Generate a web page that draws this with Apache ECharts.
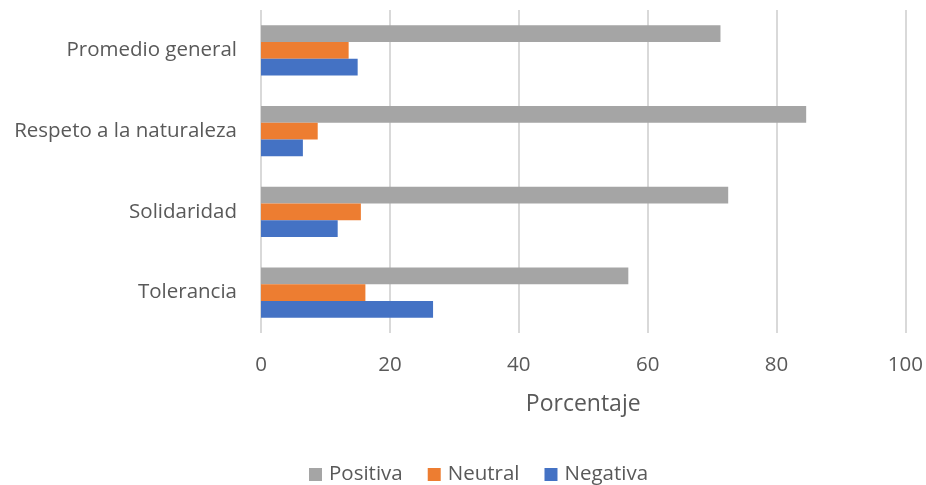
<!DOCTYPE html>
<html><head><meta charset="utf-8">
<script src="https://cdn.jsdelivr.net/npm/echarts@6/dist/echarts.min.js"></script>
<style>html,body{margin:0;padding:0;background:#fff}#c{width:926px;height:485px}</style>
</head><body><div id="c"></div>
<script>
const categories = ['Tolerancia', 'Solidaridad', 'Respeto a la naturaleza', 'Promedio general'];
const positiva = [57.0, 72.5, 84.6, 71.3];
const neutral = [16.2, 15.5, 8.8, 13.6];
const negativa = [26.7, 11.9, 6.5, 15.0];
const xTicks = [0, 20, 40, 60, 80, 100];

const font = 'Open Sans, Liberation Sans, sans-serif';
const chart = echarts.init(document.getElementById('c'));
chart.setOption({
  animation: false,
  grid: { left: 261, right: 20, top: 10, bottom: 152, containLabel: false },
  legend: {
    data: ['Positiva', 'Neutral', 'Negativa'],
    top: 459, left: 304,
    itemWidth: 13, itemHeight: 13, itemGap: 25,
    icon: 'rect',
    textStyle: { fontFamily: font, fontSize: 20.5, color: '#595959', padding: [0, 0, 0, 2] }
  },
  xAxis: {
    type: 'value', min: xTicks[0], max: xTicks[xTicks.length - 1], interval: 20,
    name: 'Porcentaje', nameLocation: 'middle', nameGap: 60,
    nameTextStyle: { fontFamily: font, fontSize: 23, color: '#595959' },
    axisLine: { show: false }, axisTick: { show: false },
    axisLabel: { margin: 22, fontFamily: font, fontSize: 20.5, color: '#595959' },
    splitLine: { show: true, lineStyle: { color: '#d9d9d9', width: 2 } }
  },
  yAxis: {
    type: 'category', data: categories,
    axisLine: { show: false }, axisTick: { show: false },
    axisLabel: { margin: 24, fontFamily: font, fontSize: 20.5, color: '#595959' }
  },
  series: [
    { name: 'Positiva', type: 'bar', data: positiva, itemStyle: { color: '#A5A5A5' }, barGap: '0%', barCategoryGap: '38%' },
    { name: 'Neutral', type: 'bar', data: neutral, itemStyle: { color: '#ED7D31' }, barGap: '0%', barCategoryGap: '38%' },
    { name: 'Negativa', type: 'bar', data: negativa, itemStyle: { color: '#4472C4' }, barGap: '0%', barCategoryGap: '38%' }
  ]
});
</script></body></html>
